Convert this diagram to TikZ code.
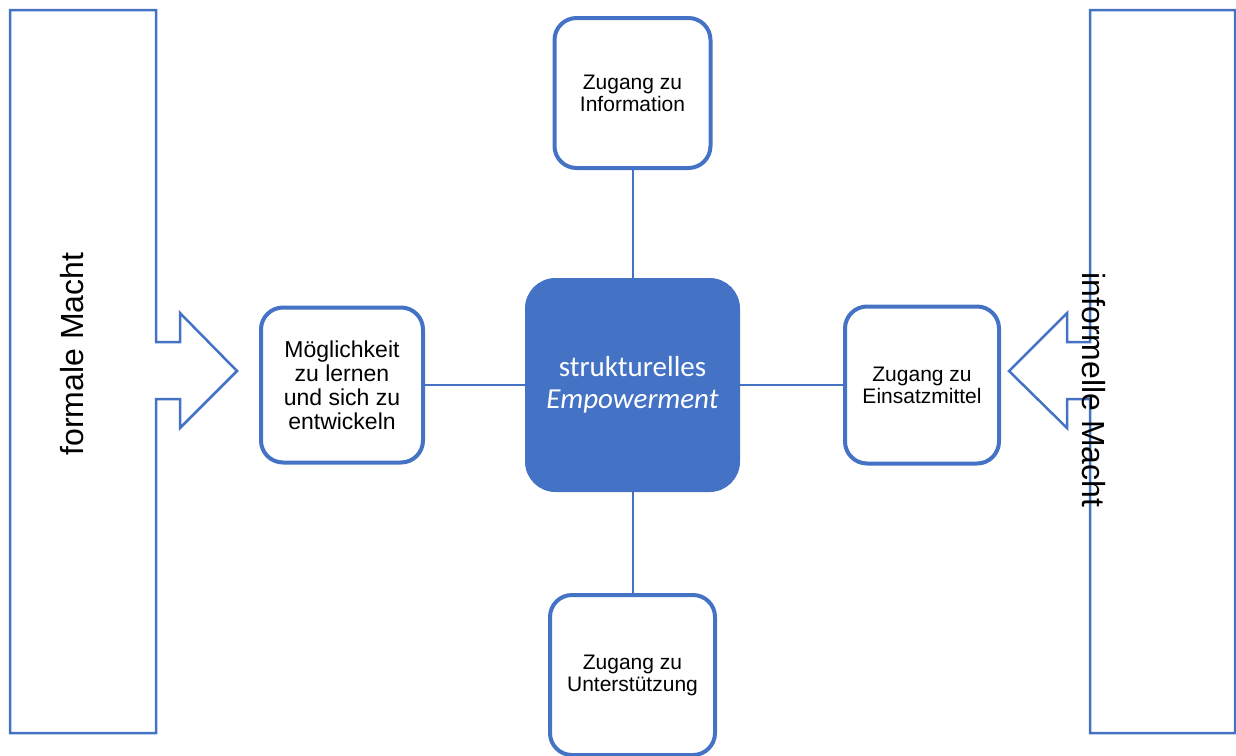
\documentclass[tikz,border=0pt]{standalone}
\usepackage{fontspec}
\setmainfont{Liberation Sans}
\newfontfamily\corefont{Carlito}
\usetikzlibrary{positioning}
\definecolor{empblue}{HTML}{4472C4}

\begin{document}
\begin{tikzpicture}[x=1pt, y=-1pt,
  font=\fontsize{21}{22}\selectfont,
  % Factors = white rounded boxes around the core
  factor/.style={rectangle, draw=empblue, line width=4pt, fill=white, rounded corners=22pt, align=center, inner sep=2pt},
  % Core = filled rounded box in the middle
  corebox/.style={rectangle, draw=empblue, fill=empblue, line width=1pt, rounded corners=30pt, align=center, text=white,
    minimum width=214pt, minimum height=213pt, font=\corefont\fontsize{29}{32}\selectfont},
  % Power = big block arrows at the sides
  power/.style={draw=empblue, line width=2.5pt, line join=miter},
  powertext/.style={font=\fontsize{32}{34}\selectfont, inner sep=0pt},
  link/.style={draw=empblue, line width=2pt}
]
\useasboundingbox (0,0) rectangle (1236,755);

% ---- Core ----
\node[corebox] (core) at (632.5,385) {strukturelles\\\textit{Empowerment}};

% ---- Factors ----
\node[factor, minimum width=156pt, minimum height=150pt, above=108pt of core] (info) {Zugang zu\\Information};
\node[factor, minimum width=165pt, minimum height=160pt, below=101pt of core] (support) {Zugang zu\\Unterst\"utzung};
\node[factor, minimum width=162pt, minimum height=155pt, left=100pt of core, font=\fontsize{23}{24}\selectfont] (learn) {M\"oglichkeit\\zu lernen\\und sich zu\\entwickeln};
\node[factor, minimum width=154pt, minimum height=157pt, right=103pt of core] (means) {Zugang zu\\Einsatzmittel};

% ---- Links ----
\draw[link] (info) -- (core);
\draw[link] (support) -- (core);
\draw[link] (learn) -- (core);
\draw[link] (means) -- (core);

% ---- Power arrows ----
\draw[power] (10,10) -- (156,10) -- (156,342) -- (180,342) -- (180,313) -- (237,371) -- (180,428) -- (180,399) -- (156,399) -- (156,733) -- (10,733) -- cycle;
\draw[power] (1090,10) -- (1235,10) -- (1235,733) -- (1090,733) -- (1090,399) -- (1067,399) -- (1067,428) -- (1009,371) -- (1067,313) -- (1067,342) -- (1090,342) -- cycle;

\node[powertext, rotate=90] (formal) at (72,354) {formale Macht};
\node[powertext, rotate=-90] (informal) at (1093.5,390) {informelle Macht};

\end{tikzpicture}
\end{document}
